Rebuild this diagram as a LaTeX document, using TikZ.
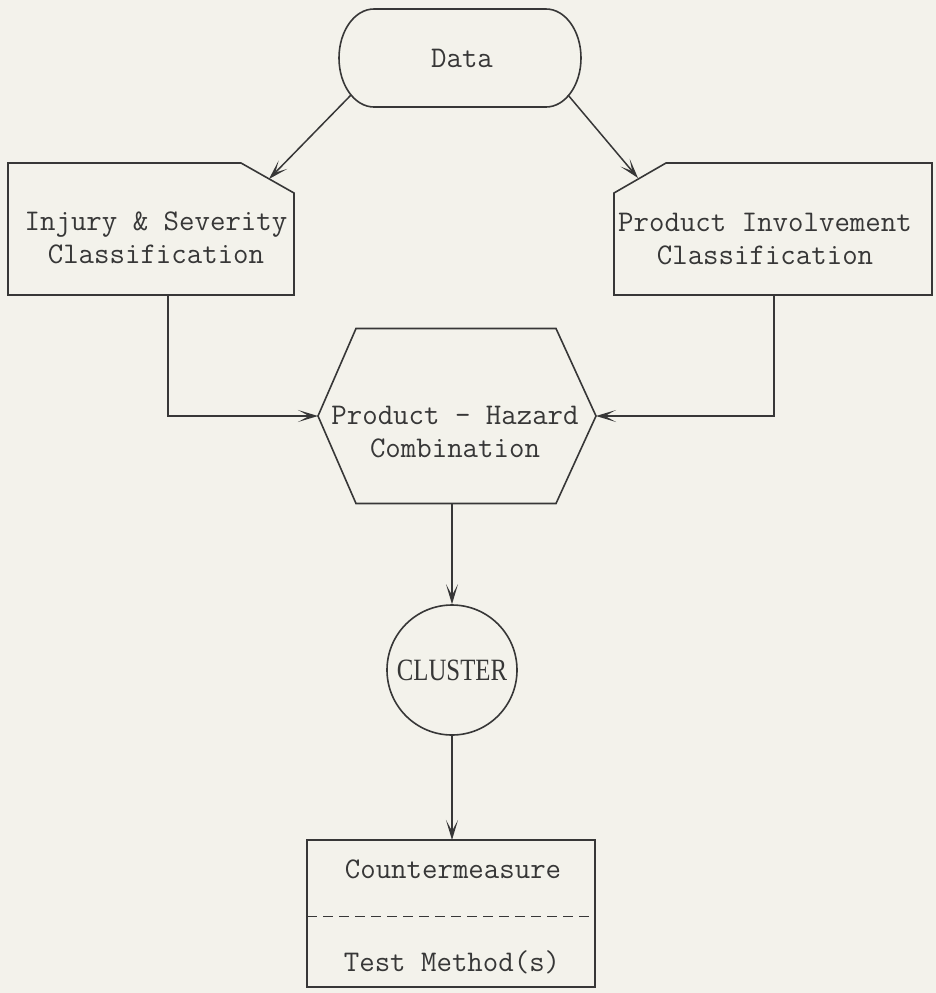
\documentclass[tikz,border=0pt]{standalone}
\usepackage{fontspec}
\newfontfamily\clusterfont{Liberation Serif}
\usetikzlibrary{arrows.meta,calc}
\definecolor{paper}{RGB}{243,242,235}
\definecolor{ink}{RGB}{55,55,55}
\tikzset{
  shapebox/.style={draw=none,inner sep=0pt,outer sep=0pt},
  outline/.style={draw=ink,line width=1.6pt,line join=miter},
  label/.style={inner sep=0pt,align=center,text=ink,
    font=\ttfamily\fontsize{30}{33}\selectfont},
  arr/.style={draw=ink,line width=1.5pt,
    -{Stealth[length=20pt,width=12pt,inset=11pt]}}
}
\begin{document}
\begin{tikzpicture}[x=1pt,y=-1pt]
  % page
  \fill[paper] (0,0) rectangle (936,993);
  \useasboundingbox (0,0) rectangle (936,993);

  % start terminal with elliptic ends
  \node[shapebox,minimum width=242pt,minimum height=98pt] (data) at (460,58) {};
  \draw[outline] ($(data.north west)+(35,0)$) -- ($(data.north east)+(-35,0)$)
    arc[start angle=-90,end angle=90,x radius=35,y radius=49]
    -- ($(data.south west)+(35,0)$)
    arc[start angle=90,end angle=270,x radius=35,y radius=49] -- cycle;
  \node[label] (datatext) at (462,58) {Data};

  % left classification box (top-right corner cut off)
  \node[shapebox,minimum width=286pt,minimum height=132pt] (inj) at (151,229) {};
  \draw[outline] (inj.south west) -- (inj.north west)
    -- ($(inj.north east)+(-53,0)$) -- ($(inj.north east)+(0,30)$)
    -- (inj.south east) -- cycle;
  \node[label] (injtext) at (156,238) {Injury \& Severity\\Classification};

  % right classification box (top-left corner cut off)
  \node[shapebox,minimum width=318pt,minimum height=132pt] (prod) at (773,229) {};
  \draw[outline] (prod.south east) -- (prod.north east)
    -- ($(prod.north west)+(52,0)$) -- ($(prod.north west)+(0,30)$)
    -- (prod.south west) -- cycle;
  \node[label] (prodtext) at (765,239) {Product Involvement\\Classification};

  % combination hexagon
  \node[shapebox,minimum width=278pt,minimum height=175pt] (hex) at (457,416) {};
  \draw[outline] (hex.west) -- ($(hex.north west)+(38,0)$)
    -- ($(hex.north east)+(-40,0)$) -- (hex.east)
    -- ($(hex.south east)+(-40,0)$) -- ($(hex.south west)+(38,0)$) -- cycle;
  \node[label] (hextext) at (455,432) {Product - Hazard\\Combination};

  % cluster circle
  \node[circle,draw=ink,line width=1.6pt,minimum size=130pt,inner sep=0pt,text=ink,
        font=\clusterfont\fontsize{31}{31}\selectfont] (cluster) at (452,670)
        {\scalebox{0.8}[1]{CLUSTER}};

  % countermeasure / test method box
  \node[shapebox,minimum width=288pt,minimum height=147pt] (cm) at (451,913.5) {};
  \draw[outline] (cm.south west) rectangle (cm.north east);
  \draw[draw=ink,line width=1.4pt,dash pattern=on 10pt off 6pt]
    ($(cm.west)+(0,3)$) -- ($(cm.east)+(0,3)$);
  \node[label] (cmtext) at (453,869) {Countermeasure};
  \node[label] (tmtext) at (452,962) {Test Method(s)};

  % connector end points on the terminal, the cut corners and the bends
  \coordinate (dataleft) at (351,95);
  \coordinate (dataright) at (568,95);
  \coordinate (injcut) at (269,179);
  \coordinate (prodcut) at (638,178);
  \coordinate (lbend) at (168,416);
  \coordinate (rbend) at (774,416);

  % connectors
  \draw[arr] (dataleft) -- (injcut);
  \draw[arr] (dataright) -- (prodcut);
  \draw[arr] (inj.south -| lbend) |- (hex.west);
  \draw[arr] (prod.south -| rbend) |- (hex.east);
  \draw[arr] (cluster.north |- hex.south) -- (cluster.north);
  \draw[arr] (cluster.south) -- (cluster.south |- cm.north);
\end{tikzpicture}
\end{document}
